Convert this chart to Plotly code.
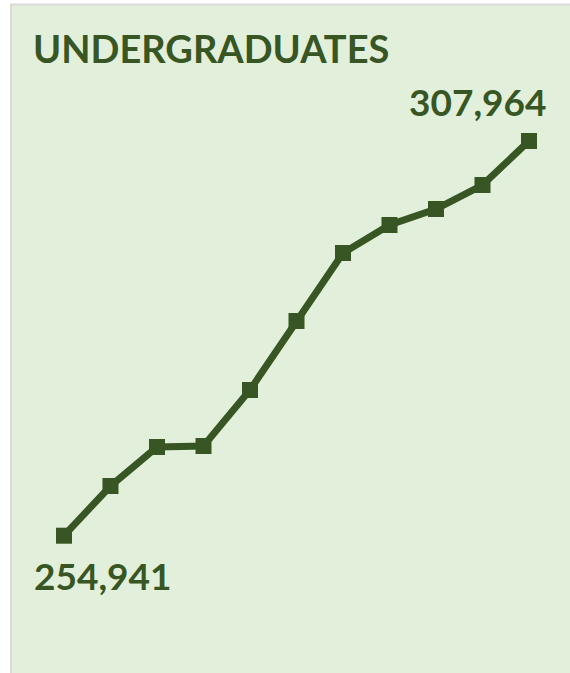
import plotly.graph_objects as go

years = list(range(11))
enrolment = [254941, 261618, 266857, 266991, 274514, 283784, 292919, 296680, 298830, 302054, 307964]
title_text = "UNDERGRADUATES"

green = "#375623"
panel = "#E2EFDA"

fig = go.Figure()
fig.add_scatter(
    x=years, y=enrolment, mode="lines+markers",
    line=dict(color=green, width=7),
    marker=dict(symbol="square", size=16, color=green),
    hoverinfo="skip",
)

# panel background with a grey edge on the left and top
fig.add_shape(type="rect", xref="paper", yref="paper",
              x0=11 / 570, x1=1.02, y0=-0.02, y1=1 - 4.5 / 673,
              fillcolor=panel, line=dict(color="#D9D9D9", width=2), layer="below")

fig.add_annotation(text=title_text, xref="paper", yref="paper", x=31 / 570, y=1 - 23 / 673,
                   xanchor="left", yanchor="top", showarrow=False,
                   font=dict(family="Lato", size=38, color=green, weight="bold"))
fig.add_annotation(text=f"{enrolment[0]:,}", x=years[0], y=enrolment[0],
                   xanchor="left", yanchor="middle", xshift=-32, yshift=-40, showarrow=False,
                   font=dict(family="Lato", size=37, color=green, weight="bold"))
fig.add_annotation(text=f"{enrolment[-1]:,}", x=years[-1], y=enrolment[-1],
                   xanchor="right", yanchor="middle", xshift=19, yshift=40, showarrow=False,
                   font=dict(family="Lato", size=37, color=green, weight="bold"))

fig.update_xaxes(visible=False, range=[-1.376, 10.882])
fig.update_yaxes(visible=False, range=[236496, 326907])
fig.update_layout(
    width=570, height=673, margin=dict(l=0, r=0, t=0, b=0),
    paper_bgcolor="white", plot_bgcolor="rgba(0,0,0,0)", showlegend=False,
)
fig.write_html("out.html", config={"displayModeBar": False},
               post_script="document.body.style.margin='0';document.body.style.overflow='hidden';")
